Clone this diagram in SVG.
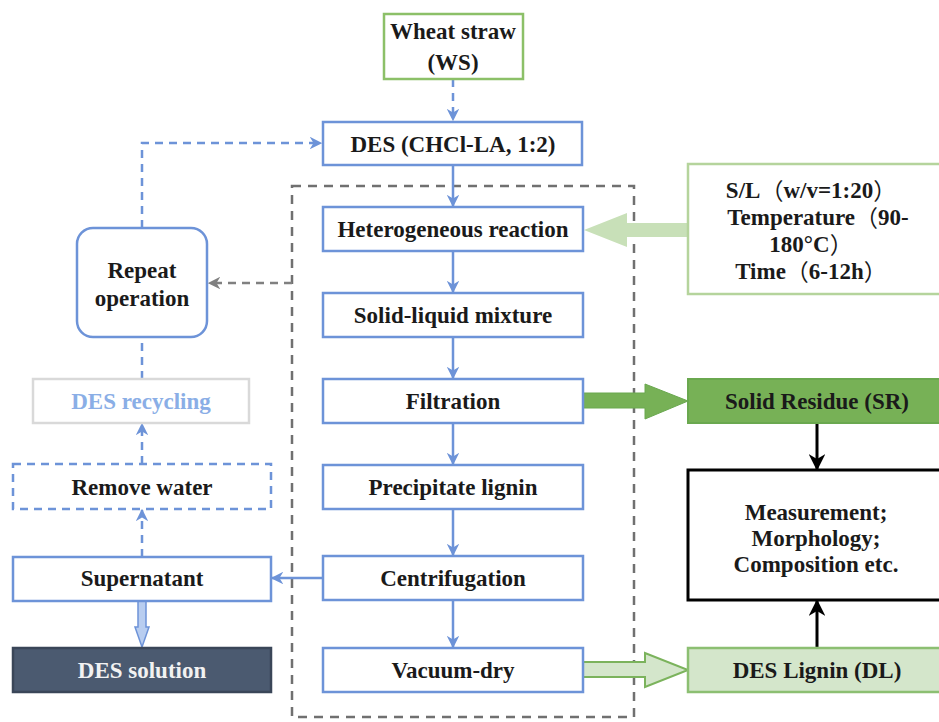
<svg xmlns="http://www.w3.org/2000/svg" width="939" height="722" viewBox="0 0 939 722">
<style>
text{font-family:"Liberation Serif","Times New Roman","DejaVu Serif",serif;font-weight:bold;font-size:23px;fill:#1a1a1a;text-anchor:middle;dominant-baseline:central}
.cjk{font-family:"Noto Sans CJK SC",serif;font-weight:normal}
.bx{fill:#fff;stroke:#6d93d8;stroke-width:2.5}
.ln{fill:none;stroke:#6d93d8;stroke-width:2.5}
.dl{fill:none;stroke:#6d93d8;stroke-width:2.5;stroke-dasharray:8 6}
</style>
<defs>
<marker id="ab" viewBox="0 0 10 10" refX="9" refY="5" markerWidth="5" markerHeight="5" orient="auto" markerUnits="strokeWidth">
<path d="M0,0 L10,5 L0,10 L3,5 z" fill="#6d93d8"/>
</marker>
<marker id="ag" viewBox="0 0 10 10" refX="9" refY="5" markerWidth="5" markerHeight="5" orient="auto" markerUnits="strokeWidth">
<path d="M0,0 L10,5 L0,10 L3,5 z" fill="#808080"/>
</marker>
<marker id="ak" viewBox="0 0 10 10" refX="9" refY="5" markerWidth="5.5" markerHeight="5.5" orient="auto" markerUnits="strokeWidth">
<path d="M0,0 L10,5 L0,10 L3,5 z" fill="#000"/>
</marker>
</defs>

<g id="container">
<rect x="292" y="186" width="342" height="531" fill="none" stroke="#707070" stroke-width="2.5" stroke-dasharray="9 7"/>
</g>

<g id="connectors">
<line class="dl" x1="453" y1="79" x2="453" y2="120" marker-end="url(#ab)"/>
<line class="ln" x1="453" y1="165" x2="453" y2="206" marker-end="url(#ab)"/>
<line class="ln" x1="453" y1="251" x2="453" y2="292" marker-end="url(#ab)"/>
<line class="ln" x1="453" y1="337" x2="453" y2="378" marker-end="url(#ab)"/>
<line class="ln" x1="453" y1="423" x2="453" y2="464" marker-end="url(#ab)"/>
<line class="ln" x1="453" y1="509" x2="453" y2="555" marker-end="url(#ab)"/>
<line class="ln" x1="453" y1="600" x2="453" y2="647" marker-end="url(#ab)"/>
<line class="ln" x1="323" y1="578" x2="272" y2="578" marker-end="url(#ab)"/>
<path class="dl" d="M142,228 L142,143 L321,143" marker-end="url(#ab)"/>
<line fill="none" stroke="#808080" stroke-width="2.5" stroke-dasharray="8 6" x1="292" y1="283" x2="209" y2="283" marker-end="url(#ag)"/>
<line class="dl" x1="142" y1="379" x2="142" y2="337"/>
<line class="dl" x1="142" y1="464" x2="142" y2="424" marker-end="url(#ab)"/>
<line class="dl" x1="142" y1="557" x2="142" y2="510" marker-end="url(#ab)"/>
<path d="M138,601 L146,601 L146,627 L149,627 L142,647 L135,627 L138,627 z" fill="#b8cdf0" stroke="#6d93d8" stroke-width="1.5"/>
<path d="M688,223 L627,223 L627,213 L584,230 L627,247 L627,237 L688,237 z" fill="#c8e0b8"/>
<path d="M583,393 L645,393 L645,384 L688,401 L645,419 L645,408 L583,408 z" fill="#77b156" stroke="#6aa84f" stroke-width="1"/>
<path d="M583,662 L645,662 L645,653 L688,670 L645,687 L645,677 L583,677 z" fill="#d4e6cb" stroke="#7bb35c" stroke-width="2"/>
<line stroke="#000" stroke-width="3" x1="817" y1="423" x2="817" y2="469" marker-end="url(#ak)"/>
<line stroke="#000" stroke-width="3" x1="817" y1="648" x2="817" y2="601" marker-end="url(#ak)"/>
</g>

<g id="wheat-straw">
<rect x="384" y="14" width="139" height="65" fill="#fff" stroke="#8cc068" stroke-width="2.5"/>
<text x="453" y="31">Wheat straw</text>
<text x="453" y="62">(WS)</text>
</g>
<g id="des">
<rect class="bx" x="323" y="122" width="259" height="43"/>
<text x="453" y="144">DES (CHCl-LA, 1:2)</text>
</g>
<g id="heterogeneous-reaction">
<rect class="bx" x="323" y="207" width="260" height="44"/>
<text x="453" y="229">Heterogeneous reaction</text>
</g>
<g id="solid-liquid-mixture">
<rect class="bx" x="323" y="293" width="260" height="44"/>
<text x="453" y="315">Solid-liquid mixture</text>
</g>
<g id="filtration">
<rect class="bx" x="323" y="379" width="260" height="44"/>
<text x="453" y="401">Filtration</text>
</g>
<g id="precipitate-lignin">
<rect class="bx" x="323" y="465" width="260" height="44"/>
<text x="453" y="487">Precipitate lignin</text>
</g>
<g id="centrifugation">
<rect class="bx" x="323" y="556" width="260" height="44"/>
<text x="453" y="578">Centrifugation</text>
</g>
<g id="vacuum-dry">
<rect class="bx" x="323" y="648" width="260" height="44"/>
<text x="453" y="670">Vacuum-dry</text>
</g>

<g id="repeat-operation">
<rect class="bx" x="77" y="228" width="130" height="109" rx="16"/>
<text x="142" y="270">Repeat</text>
<text x="142" y="298">operation</text>
</g>
<g id="des-recycling">
<rect x="33" y="379" width="216" height="44" fill="#fff" stroke="#d9d9d9" stroke-width="2.5"/>
<text x="141" y="401" style="fill:#8aaee6">DES recycling</text>
</g>
<g id="remove-water">
<rect class="dl" x="13" y="464" width="258" height="45"/>
<text x="142" y="487">Remove water</text>
</g>
<g id="supernatant">
<rect class="bx" x="13" y="557" width="258" height="44"/>
<text x="142" y="578">Supernatant</text>
</g>
<g id="des-solution">
<rect x="13" y="648" width="258" height="44" fill="#4b5a70" stroke="#3a4658" stroke-width="2.5"/>
<text x="142" y="670" style="fill:#f2f2f2">DES solution</text>
</g>

<g id="conditions">
<rect x="688" y="164" width="258" height="130" fill="#fff" stroke="#b5d49c" stroke-width="2.5"/>
<text x="811" y="190">S/L<tspan class="cjk">（</tspan>w/v=1:20<tspan class="cjk">）</tspan></text>
<text x="818" y="217">Temperature<tspan class="cjk">（</tspan>90-</text>
<text x="811" y="244">180°C<tspan class="cjk">）</tspan></text>
<text x="811" y="271">Time<tspan class="cjk">（</tspan>6-12h<tspan class="cjk">）</tspan></text>
</g>
<g id="solid-residue">
<rect x="688" y="379" width="258" height="44" fill="#77b156" stroke="#6aa84f" stroke-width="2"/>
<text x="817" y="401">Solid Residue (SR)</text>
</g>
<g id="measurement">
<rect x="688" y="470" width="258" height="130" fill="#fff" stroke="#000" stroke-width="3"/>
<text x="816" y="512">Measurement;</text>
<text x="816" y="538">Morphology;</text>
<text x="816" y="564">Composition etc.</text>
</g>
<g id="des-lignin">
<rect x="688" y="648" width="258" height="44" fill="#d4e6cb" stroke="#8cbf72" stroke-width="2.5"/>
<text x="817" y="670">DES Lignin (DL)</text>
</g>
</svg>
